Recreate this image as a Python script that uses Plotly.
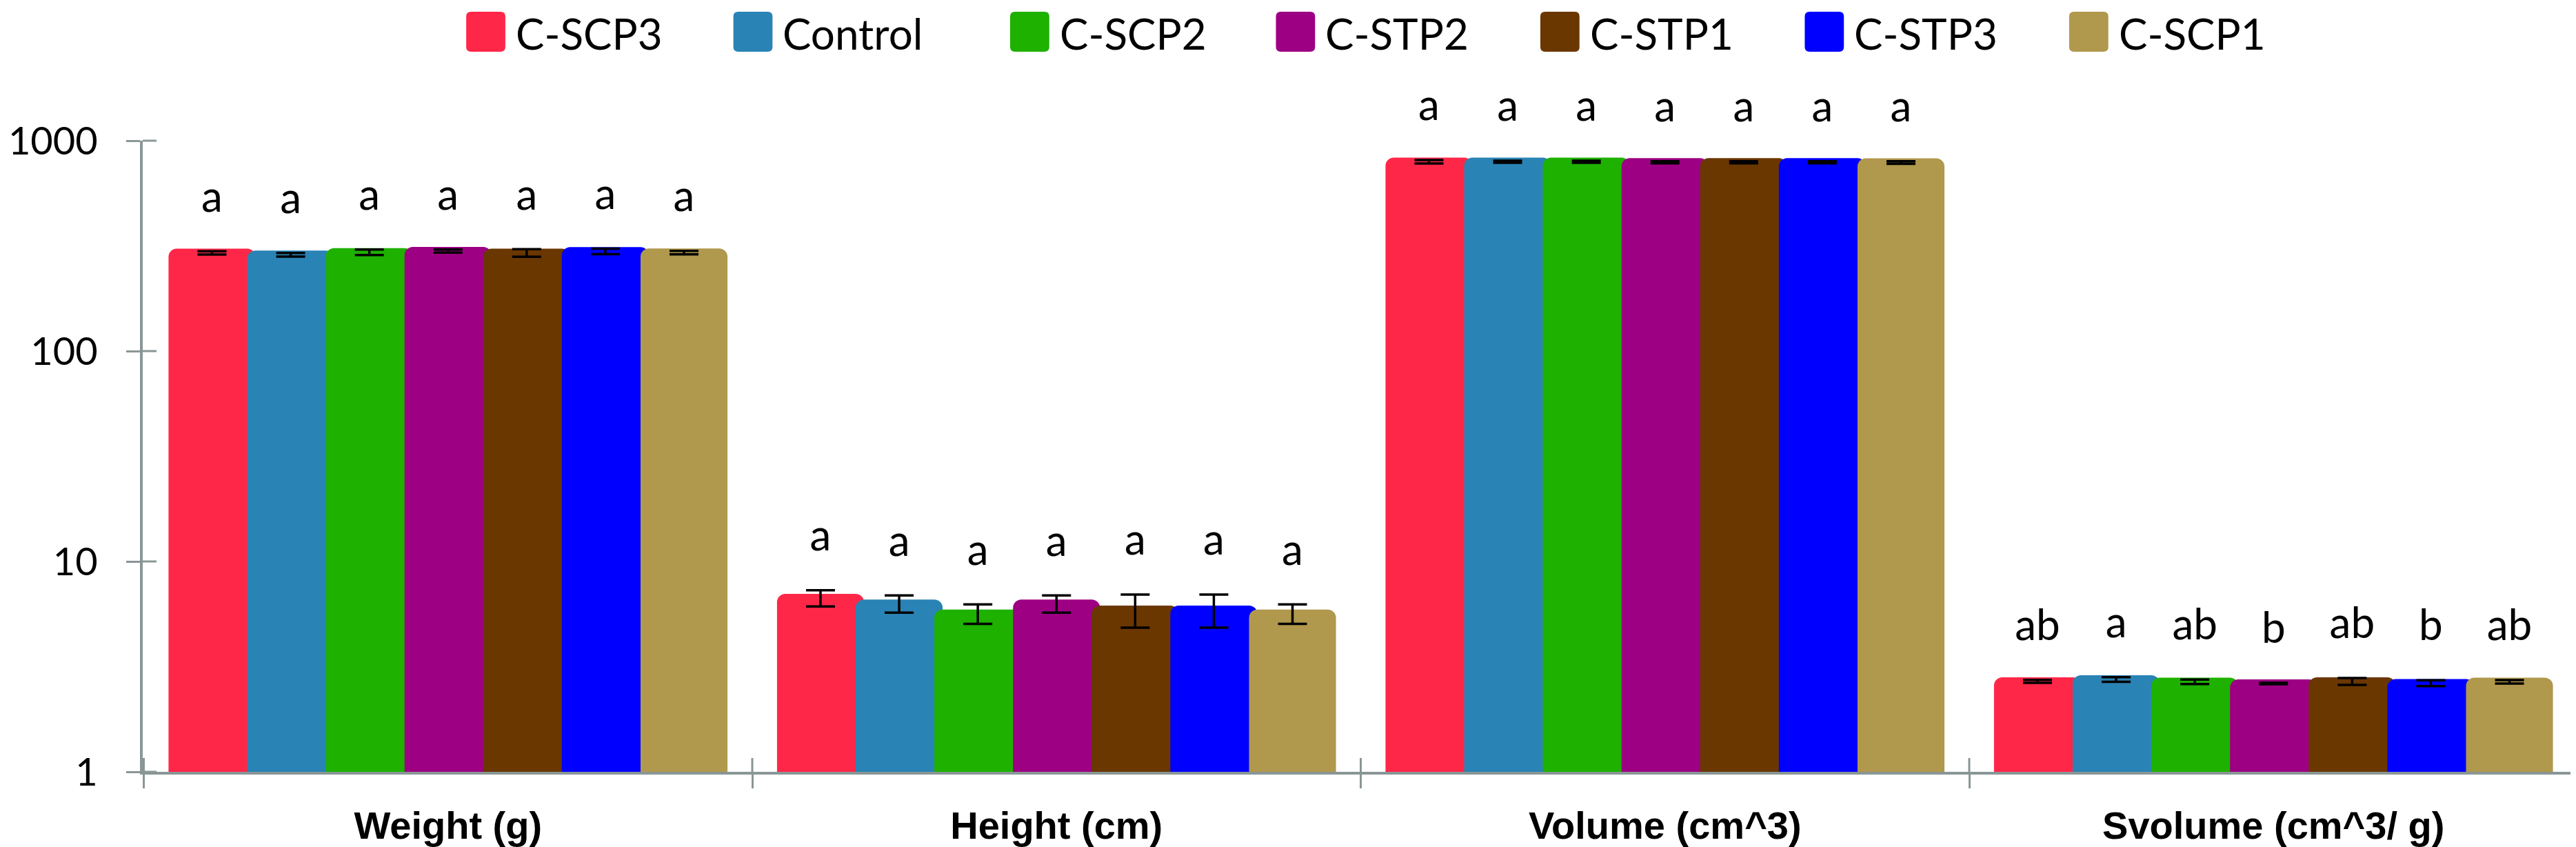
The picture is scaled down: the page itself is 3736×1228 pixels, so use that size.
import math
import plotly.graph_objects as go

# categories on the x axis
categories = ["Weight (g)", "Height (cm)", "Volume (cm^3)", "Svolume (cm^3/ g)"]

# series (legend order)
series = ["C-SCP3", "Control", "C-SCP2", "C-STP2", "C-STP1", "C-STP3", "C-SCP1"]
colors = ["#ff2748", "#2a83b5", "#1eb100", "#9d0083", "#6a3700", "#0000ff", "#b0984c"]

# mean values per series, one per category
scp3 = [293, 6.7, 795, 2.69]
control = [287, 6.3, 795, 2.75]
scp2 = [295, 5.65, 795, 2.68]
stp2 = [299, 6.3, 790, 2.63]
stp1 = [293, 5.9, 790, 2.69]
stp3 = [298, 5.9, 790, 2.64]
scp1 = [294, 5.65, 788, 2.68]

# error bars
scp3_err = [5, 0.59, 15, 0.044]
control_err = [5.8, 0.59, 9, 0.07]
scp2_err = [9, 0.6, 9, 0.067]
stp2_err = [5, 0.59, 9, 0.02]
stp1_err = [12, 1.06, 9, 0.1]
stp3_err = [9, 1.06, 9, 0.085]
scp1_err = [5.5, 0.6, 11, 0.05]

# significance letters
scp3_sig = ["a", "a", "a", "ab"]
control_sig = ["a", "a", "a", "a"]
scp2_sig = ["a", "a", "a", "ab"]
stp2_sig = ["a", "a", "a", "b"]
stp1_sig = ["a", "a", "a", "ab"]
stp3_sig = ["a", "a", "a", "b"]
scp1_sig = ["a", "a", "a", "ab"]

yticks = [1, 10, 100, 1000]

values = [scp3, control, scp2, stp2, stp1, stp3, scp1]
errors = [scp3_err, control_err, scp2_err, stp2_err, stp1_err, stp3_err, scp1_err]
letters = [scp3_sig, control_sig, scp2_sig, stp2_sig, stp1_sig, stp3_sig, scp1_sig]

AXIS = "#8a9696"
GAP = 0.095
FONT = "Lato, Calibri, Carlito, sans-serif"

fig = go.Figure()

for name, col, v, e in zip(series, colors, values, errors):
    fig.add_trace(go.Bar(
        x=categories, y=v, name=name, showlegend=False,
        marker=dict(color=col, line=dict(color=col, width=12), cornerradius=6),
        error_y=dict(type="data", array=e, visible=True, color="black",
                     thickness=3.5, width=21),
    ))

# letters above the error bars (transparent markers push the text up)
for v, e, l in zip(values, errors, letters):
    tops = [a + b for a, b in zip(v, e)]
    fig.add_trace(go.Scatter(
        x=categories, y=tops, text=l, mode="markers+text", showlegend=False,
        marker=dict(size=66, color="rgba(0,0,0,0)"),
        textposition="top center", cliponaxis=False,
        textfont=dict(family=FONT, size=62, color="black"),
    ))

# legend drawn as rounded squares + labels above the plot
W, H = 3736, 1228
ML, MR, MT, MB = 185, 4, 196, 117
PW, PH = W - ML - MR, H - MT - MB


def px(x):
    return (x - ML) / PW


def py(y):
    return (H - MB - y) / PH


def rounded_box(x0, y0, x1, y1, r):
    return (f"M{px(x0 + r)},{py(y0)} L{px(x1 - r)},{py(y0)} "
            f"Q{px(x1)},{py(y0)} {px(x1)},{py(y0 + r)} L{px(x1)},{py(y1 - r)} "
            f"Q{px(x1)},{py(y1)} {px(x1 - r)},{py(y1)} L{px(x0 + r)},{py(y1)} "
            f"Q{px(x0)},{py(y1)} {px(x0)},{py(y1 - r)} L{px(x0)},{py(y0 + r)} "
            f"Q{px(x0)},{py(y0)} {px(x0 + r)},{py(y0)} Z")


leg_x = [656, 1045, 1448, 1835, 2220, 2605, 2990]
for x0, name, col in zip(leg_x, series, colors):
    fig.add_shape(type="path", xref="paper", yref="paper",
                  path=rounded_box(x0, 9, x0 + 57, 67, 7),
                  fillcolor=col, line=dict(width=0))
    fig.add_annotation(text=name, xref="paper", yref="paper",
                       x=px(x0 + 70), y=py(40),
                       xanchor="left", yanchor="middle", showarrow=False,
                       font=dict(family=FONT, size=62, color="black"))

# tick marks cross the axis lines: add the inner halves
for t in yticks:
    fig.add_shape(type="line", xref="paper", yref="y domain",
                  xsizemode="pixel", xanchor=0, x0=0, x1=20,
                  y0=math.log10(t) / 3, y1=math.log10(t) / 3,
                  line=dict(color=AXIS, width=3))
for i in range(len(categories) + 1):
    fig.add_shape(type="line", xref="x", yref="paper",
                  ysizemode="pixel", yanchor=0, y0=0, y1=20,
                  x0=i - 0.5, x1=i - 0.5,
                  line=dict(color=AXIS, width=3))

fig.update_layout(
    width=W, height=H,
    margin=dict(l=ML, r=MR, t=MT, b=MB),
    barmode="group", bargap=GAP, bargroupgap=0,
    scattermode="group", scattergap=GAP,
    plot_bgcolor="white", paper_bgcolor="white",
    showlegend=False,
)
fig.update_xaxes(
    showline=True, linecolor=AXIS, linewidth=4,
    ticks="outside", tickson="boundaries", ticklen=20, tickwidth=3, tickcolor=AXIS,
    tickfont=dict(family="Liberation Sans, Arial", size=56, color="black", weight="bold"),
    ticklabelstandoff=26,
    showgrid=False,
)
fig.update_yaxes(
    type="log", range=[0, 3],
    tickvals=yticks, ticktext=[str(t) for t in yticks],
    showline=True, linecolor=AXIS, linewidth=4,
    ticks="outside", ticklen=20, tickwidth=3, tickcolor=AXIS,
    tickfont=dict(family=FONT, size=56, color="black"),
    ticklabelstandoff=30,
    showgrid=False, zeroline=False,
)

fig.write_html("out.html")
